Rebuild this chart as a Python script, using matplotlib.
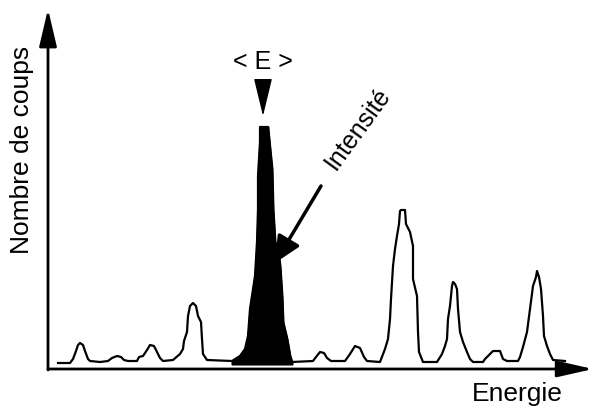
import matplotlib
matplotlib.use("Agg")
import matplotlib.pyplot as plt

plt.rcParams['font.family'] = ['Liberation Sans', 'DejaVu Sans']

# Spectrum trace (energy channel, counts)
energy = [9, 21,
          24, 27, 29, 31, 34, 36, 39, 41, 51,
          59, 63, 68, 72, 75, 79, 88,
          90, 94, 98, 101, 105, 108, 111, 114, 124,
          131, 134, 135, 138, 139, 141, 144, 147, 149, 152, 153, 154, 158, 183,
          191, 196, 199, 201, 203, 206, 208, 209, 209, 211, 211, 219, 219, 221,
          223, 224, 226, 229, 231, 233, 234, 238, 241, 243, 264,
          267, 271, 275, 278, 282, 296,
          301, 306, 311, 315, 318, 331,
          336, 339, 341, 342, 344, 346, 348, 350, 351, 352, 356, 357, 361, 364,
          364, 368, 369, 370, 374, 388,
          393, 396, 398, 399, 401, 403, 404, 406, 408, 409, 411, 414, 418, 421,
          424, 434,
          436, 444, 451, 454, 458, 469,
          471, 474, 478, 481, 484, 487, 488, 490, 492, 494, 495, 498, 501, 504,
          516]
counts = [6, 6,
          10, 18, 24, 26, 24, 18, 10, 8, 7,
          8, 11, 13, 12, 9, 8, 8,
          12, 13, 19, 24, 23, 17, 11, 8, 9,
          15, 20, 28, 37, 53, 63, 66, 63, 53, 47, 30, 15, 9, 8,
          13, 20, 33, 60, 73, 93, 127, 160, 193, 227, 242, 242, 240, 220,
          200, 160, 127, 120, 103, 73, 47, 30, 13, 7, 8,
          12, 17, 16, 11, 8, 8,
          15, 23, 21, 12, 8, 7,
          20, 30, 50, 70, 103, 120, 133, 145, 158, 159, 159, 145, 137, 123,
          90, 73, 37, 17, 7, 7,
          15, 23, 30, 50, 63, 83, 87, 85, 80, 60, 37, 27, 17, 10,
          7, 7,
          10, 18, 18, 10, 8, 8,
          12, 22, 37, 60, 83, 92, 98, 92, 80, 53, 33, 23, 15, 9,
          8]

# Highlighted (filled) peak
peak_energy = [183, 191, 196, 199, 201, 203, 206, 208, 209, 209, 211, 211, 219,
               219, 221, 223, 224, 226, 229, 231, 233, 234, 238, 241, 243]
peak_counts = [8, 13, 20, 33, 60, 73, 93, 127, 160, 193, 227, 242, 242,
               240, 220, 200, 160, 127, 120, 103, 73, 47, 30, 13, 7]
peak_base = 5

mean_energy = 214
mean_label = "< E >"
xlabel = "Energie"
ylabel = "Nombre de coups"
intensity_label = "Intensité"

fig = plt.figure(figsize=(5.96, 4.10), dpi=100)
ax = fig.add_axes([49 / 596, 40 / 410, 547 / 596, 370 / 410])
ax.set_xlim(0, 547)
ax.set_ylim(0, 370)
ax.axis('off')

ax.plot(energy, counts, color='black', lw=1.6, solid_joinstyle='round')
ax.fill_between(peak_energy, peak_counts, peak_base, color='black', lw=1.5,
                edgecolor='black')

# axes arrows
ax.annotate('', xy=(544, 0), xytext=(-1, 0),
            arrowprops=dict(arrowstyle='-|>,head_length=1.1,head_width=0.25',
                            mutation_scale=20, color='black', lw=2,
                            shrinkA=0, shrinkB=0), annotation_clip=False)
ax.annotate('', xy=(-1, 360), xytext=(-1, -1),
            arrowprops=dict(arrowstyle='-|>,head_length=1.15,head_width=0.27',
                            mutation_scale=20, color='black', lw=2,
                            shrinkA=0, shrinkB=0), annotation_clip=False)

# <E> marker
ax.text(mean_energy, 308, mean_label, ha='center', va='center', fontsize=18)
ax.annotate('', xy=(mean_energy, 253), xytext=(mean_energy, 288),
            arrowprops=dict(arrowstyle='-|>,head_length=1.2,head_width=0.29',
                            mutation_scale=20, color='black', lw=1,
                            shrinkA=0, shrinkB=0))

# Intensité label and arrow
ax.text(309, 241, intensity_label, ha='center', va='center', rotation=54,
        fontsize=18)
ax.annotate('', xy=(226, 106), xytext=(272, 183),
            arrowprops=dict(arrowstyle='-|>,head_length=0.8,head_width=0.38',
                            mutation_scale=20, color='black', lw=2.5,
                            shrinkA=0, shrinkB=0))

ax.text(-27, 220, ylabel, ha='center', va='center', rotation=90, fontsize=19)
ax.text(468, -24, xlabel, ha='center', va='center', fontsize=19)

fig.savefig('out.png', dpi=100)
